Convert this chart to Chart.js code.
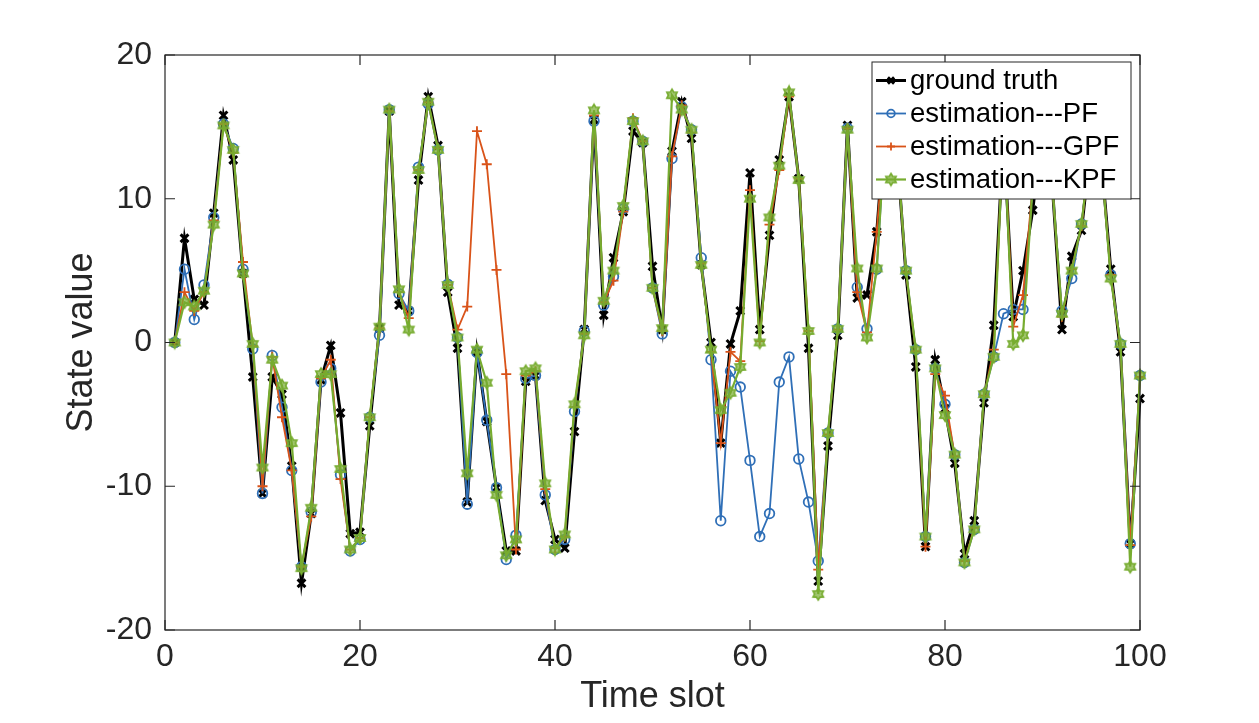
<!DOCTYPE html>
<html>
<head>
<meta charset="utf-8">
<title>State value vs time slot</title>
<script src="https://cdn.jsdelivr.net/npm/chart.js@4.4.1/dist/chart.umd.min.js"></script>
<style>
  html, body { margin: 0; padding: 0; background: #fff; }
  #wrap { width: 1259px; height: 723px; }
</style>
</head>
<body>
<div id="wrap"><canvas id="stateChart" width="1259" height="723"></canvas></div>
<script>
// time slots 1..100
const timeSlots = Array.from({ length: 100 }, (_, i) => i + 1);

const groundTruth = [
  0, 7.25, 3.0, 2.6, 9.0, 15.8, 12.7, 4.8, -2.4, -10.5,
  -2.4, -3.6, -8.6, -16.75, -11.9, -2.6, -0.2, -4.9, -13.3, -13.2,
  -5.8, 1.0, 16.1, 2.6, 2.2, 11.3, 17.1, 13.7, 3.5, -0.4,
  -11.1, -0.65, -5.5, -10.1, -14.5, -14.5, -2.7, -2.3, -11.0, -13.7,
  -14.3, -6.2, 0.9, 15.5, 1.9, 5.9, 9.1, 14.7, 13.9, 5.3,
  0.9, 13.3, 16.75, 14.2, 5.4, 0.0, -7.0, -0.1, 2.2, 11.8,
  0.9, 7.45, 12.7, 17.1, 11.4, -0.4, -16.6, -7.2, 0.5, 15.1,
  3.1, 3.3, 7.7, 16.5, 14.0, 4.7, -1.7, -14.2, -1.2, -4.6,
  -8.4, -14.7, -12.4, -4.2, 1.2, 14.5, 1.8, 5.0, 9.2, 15.0,
  11.0, 0.9, 6.0, 7.8, 14.0, 13.0, 5.1, -0.65, -14.0, -3.9
];

const estPF = [
  0, 5.1, 1.6, 4.0, 8.7, 15.2, 13.5, 5.1, -0.45, -10.5,
  -0.9, -4.5, -8.9, -15.6, -11.8, -2.75, -1.8, -9.2, -14.5, -13.7,
  -5.2, 0.5, 16.2, 3.4, 2.2, 12.2, 16.6, 13.4, 4.05, 0.35,
  -11.25, -0.7, -5.4, -10.1, -15.1, -13.4, -2.5, -2.3, -10.6, -14.4,
  -13.7, -4.8, 0.8, 15.4, 2.6, 4.6, 9.3, 15.4, 14.0, 3.8,
  0.6, 12.8, 16.4, 14.8, 5.9, -1.2, -12.4, -2.0, -3.1, -8.2,
  -13.5, -11.9, -2.75, -1.0, -8.1, -11.1, -15.2, -6.3, 0.95, 14.9,
  3.85, 0.95, 5.1, 16.0, 14.0, 5.0, -0.5, -13.5, -1.8, -4.3,
  -7.8, -15.3, -13.0, -3.6, -1.0, 2.0, 2.3, 2.3, 11.0, 15.0,
  11.0, 2.2, 4.45, 8.25, 14.0, 13.0, 4.7, -0.1, -14.0, -2.3
];

const estGPF = [
  0, 3.5, 2.2, 3.5, 8.5, 15.2, 13.2, 5.6, -0.25, -10.0,
  -1.0, -5.2, -8.9, -15.6, -12.1, -2.5, -1.2, -9.5, -14.4, -13.6,
  -5.2, 1.0, 16.1, 3.5, 1.7, 12.0, 16.7, 13.5, 4.0, 0.9,
  2.5, 14.7, 12.4, 5.05, -2.2, -14.4, -2.3, -2.0, -10.2, -14.3,
  -13.5, -4.5, 0.6, 15.8, 2.8, 4.3, 9.1, 15.6, 14.0, 3.8,
  0.8, 12.95, 16.5, 14.6, 5.5, -0.65, -7.0, -0.65, -1.3, 10.6,
  0.1, 8.2, 12.0, 17.1, 11.4, 0.8, -15.8, -6.4, 0.9, 14.9,
  3.5, 0.7, 7.7, 16.2, 14.0, 4.9, -0.6, -14.2, -2.2, -3.7,
  -7.9, -15.2, -12.9, -3.7, -0.5, 15.0, 1.1, 3.3, 11.0, 15.0,
  11.0, 1.8, 5.1, 8.1, 14.0, 13.0, 4.7, -0.3, -14.1, -2.4
];

const estKPF = [
  0, 2.8, 2.5, 3.6, 8.2, 15.1, 13.4, 4.8, -0.1, -8.7,
  -1.2, -3.0, -7.0, -15.7, -11.5, -2.2, -2.2, -8.8, -14.4, -13.6,
  -5.2, 1.1, 16.2, 3.7, 0.9, 12.0, 16.75, 13.4, 4.0, 0.35,
  -9.1, -0.5, -2.8, -10.6, -14.8, -13.7, -2.0, -1.8, -9.8, -14.4,
  -13.35, -4.3, 0.5, 16.15, 2.9, 5.0, 9.5, 15.4, 14.0, 3.8,
  1.0, 17.2, 16.2, 14.8, 5.4, -0.5, -4.7, -3.5, -1.7, 10.0,
  0.0, 8.7, 12.3, 17.4, 11.3, 0.8, -17.5, -6.3, 0.95, 14.8,
  5.15, 0.35, 5.15, 16.0, 14.0, 5.0, -0.5, -13.5, -1.8, -5.05,
  -7.8, -15.3, -13.0, -3.6, -1.0, 15.0, -0.1, 0.5, 11.0, 15.0,
  11.0, 2.0, 5.0, 8.25, 14.0, 13.0, 4.45, -0.1, -15.6, -2.3
];

const seriesNames = ['ground truth', 'estimation---PF', 'estimation---GPF', 'estimation---KPF'];
const xTicks = [0, 20, 40, 60, 80, 100];
const yTicks = [-20, -10, 0, 10, 20];

const FONT = '"Liberation Sans", Arial, Helvetica, sans-serif';
const AXIS_COLOR = '#262626';

function toPoints(values) {
  return values.map((v, i) => ({ x: timeSlots[i], y: v }));
}

// hexagram marker like matlab 'h'
function makeHexagram(color, r) {
  const size = Math.ceil(r * 2 + 4);
  const c = document.createElement('canvas');
  c.width = size;
  c.height = size;
  const g = c.getContext('2d');
  const cx = size / 2, cy = size / 2;
  g.beginPath();
  for (let k = 0; k < 12; k++) {
    const ang = -Math.PI / 2 + k * Math.PI / 6;
    const rr = k % 2 === 0 ? r : r * 0.6;
    const px = cx + rr * Math.cos(ang);
    const py = cy + rr * Math.sin(ang);
    if (k === 0) g.moveTo(px, py); else g.lineTo(px, py);
  }
  g.closePath();
  g.fillStyle = 'rgba(119,172,48,0.7)';
  g.fill();
  g.strokeStyle = color;
  g.lineWidth = 1.6;
  g.stroke();
  return c;
}

const hexagram = makeHexagram('#77AC30', 6);

// box with inward ticks on all four sides
const axesBox = {
  id: 'axesBox',
  afterDatasetsDraw(chart) {
    const { ctx, chartArea: a, scales: { x, y } } = chart;
    const len = 10;
    ctx.save();
    ctx.strokeStyle = AXIS_COLOR;
    ctx.lineWidth = 1.2;
    ctx.strokeRect(a.left, a.top, a.right - a.left, a.bottom - a.top);
    ctx.beginPath();
    x.ticks.forEach(t => {
      const px = x.getPixelForValue(t.value);
      ctx.moveTo(px, a.bottom); ctx.lineTo(px, a.bottom - len);
      ctx.moveTo(px, a.top); ctx.lineTo(px, a.top + len);
    });
    y.ticks.forEach(t => {
      const py = y.getPixelForValue(t.value);
      ctx.moveTo(a.left, py); ctx.lineTo(a.left + len, py);
      ctx.moveTo(a.right, py); ctx.lineTo(a.right - len, py);
    });
    ctx.stroke();
    ctx.restore();
  }
};

// legend box drawn inside the axes, top right
const boxLegend = {
  id: 'boxLegend',
  afterDatasetsDraw(chart) {
    const ctx = chart.ctx;
    const left = 872, top = 62, width = 259, height = 137;
    const rowH = 33;
    ctx.save();
    ctx.fillStyle = '#fff';
    ctx.fillRect(left, top, width, height);
    ctx.strokeStyle = AXIS_COLOR;
    ctx.lineWidth = 1;
    ctx.strokeRect(left, top, width, height);

    chart.data.datasets.forEach((ds, i) => {
      const cy = top + 18.5 + i * rowH;
      ctx.strokeStyle = ds.borderColor;
      ctx.lineWidth = ds.borderWidth;
      ctx.beginPath();
      ctx.moveTo(left + 4, cy);
      ctx.lineTo(left + 34, cy);
      ctx.stroke();

      ctx.fillStyle = ds.pointBackgroundColor || ds.borderColor;
      ctx.lineWidth = ds.pointBorderWidth;
      Chart.helpers.drawPoint(ctx, {
        pointStyle: ds.pointStyle,
        radius: ds.pointRadius * 0.8,
        borderWidth: ds.pointBorderWidth,
        rotation: 0
      }, left + 19, cy);

      ctx.fillStyle = '#000';
      ctx.font = '27.5px ' + FONT;
      ctx.textAlign = 'left';
      ctx.textBaseline = 'middle';
      ctx.fillText(ds.label, left + 38, cy + 1);
    });
    ctx.restore();
  }
};

const ctx = document.getElementById('stateChart').getContext('2d');

new Chart(ctx, {
  type: 'line',
  data: {
    datasets: [
      {
        label: seriesNames[0],
        data: toPoints(groundTruth),
        borderColor: '#000000',
        borderWidth: 3,
        pointStyle: 'crossRot',
        pointRadius: 5.5,
        pointBorderWidth: 3,
        pointBorderColor: '#000000',
        pointBackgroundColor: '#000000',
        order: 4
      },
      {
        label: seriesNames[1],
        data: toPoints(estPF),
        borderColor: '#2f6fb7',
        borderWidth: 1.8,
        pointStyle: 'circle',
        pointRadius: 4.8,
        pointBorderWidth: 1.8,
        pointBorderColor: '#2f6fb7',
        pointBackgroundColor: 'rgba(255,255,255,0)',
        order: 3
      },
      {
        label: seriesNames[2],
        data: toPoints(estGPF),
        borderColor: '#D95319',
        borderWidth: 1.8,
        pointStyle: 'cross',
        pointRadius: 5,
        pointBorderWidth: 1.8,
        pointBorderColor: '#D95319',
        pointBackgroundColor: '#D95319',
        order: 2
      },
      {
        label: seriesNames[3],
        data: toPoints(estKPF),
        borderColor: '#77AC30',
        borderWidth: 2.2,
        pointStyle: hexagram,
        pointRadius: 6,
        pointBorderWidth: 1.5,
        pointBorderColor: '#77AC30',
        pointBackgroundColor: '#77AC30',
        order: 1
      }
    ]
  },
  options: {
    responsive: false,
    devicePixelRatio: 1,
    animation: false,
    clip: false,
    elements: { line: { tension: 0 } },
    layout: { padding: { top: 55, right: 119, left: 0, bottom: 0 } },
    plugins: {
      legend: { display: false },
      tooltip: { enabled: false }
    },
    scales: {
      x: {
        type: 'linear',
        min: 0,
        max: 100,
        afterBuildTicks: s => { s.ticks = xTicks.map(v => ({ value: v })); },
        afterFit: s => { s.height = 93; },
        grid: { display: false, drawTicks: false },
        border: { display: false },
        ticks: {
          color: AXIS_COLOR,
          font: { family: FONT, size: 32 },
          padding: 8,
          maxRotation: 0
        },
        title: {
          display: true,
          text: 'Time slot',
          color: AXIS_COLOR,
          font: { family: FONT, size: 36 },
          padding: { top: 0, bottom: 4 }
        }
      },
      y: {
        type: 'linear',
        min: -20,
        max: 20,
        afterBuildTicks: s => { s.ticks = yTicks.map(v => ({ value: v })); },
        afterFit: s => { s.width = 165; },
        grid: { display: false, drawTicks: false },
        border: { display: false },
        ticks: {
          color: AXIS_COLOR,
          font: { family: FONT, size: 32 },
          padding: 13
        },
        title: {
          display: true,
          text: 'State value',
          color: AXIS_COLOR,
          font: { family: FONT, size: 36 },
          padding: { top: 60, bottom: 0 }
        }
      }
    }
  },
  plugins: [axesBox, boxLegend]
});
</script>
</body>
</html>
